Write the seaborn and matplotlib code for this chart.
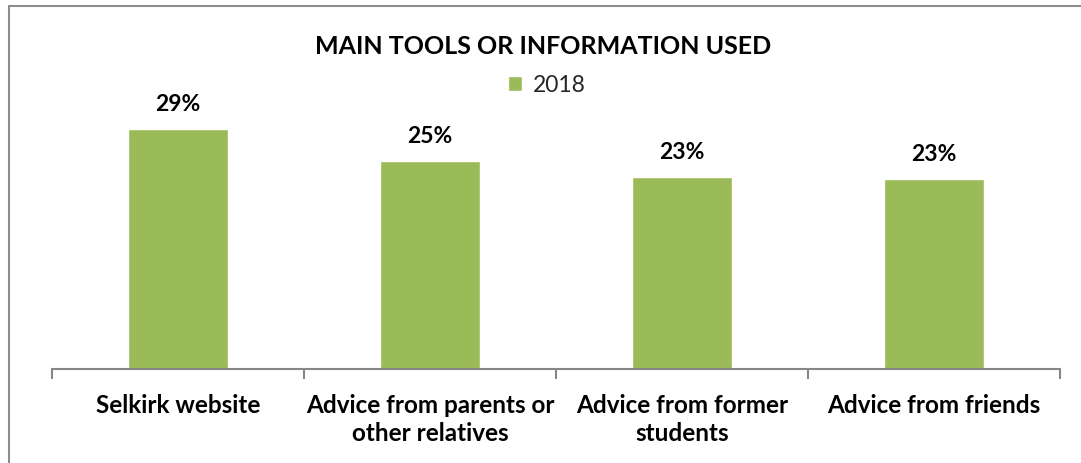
import matplotlib
matplotlib.use("Agg")
import matplotlib.pyplot as plt
from matplotlib.lines import Line2D
import seaborn as sns
import pandas as pd

categories = [
    "Selkirk website",
    "Advice from parents or\nother relatives",
    "Advice from former\nstudents",
    "Advice from friends",
]
values_2018 = [0.290, 0.251, 0.232, 0.229]
series_name = "2018"
title = "MAIN TOOLS OR INFORMATION USED"

bar_color = "#9BBB59"
axis_gray = "#868686"

df = pd.DataFrame({"category": categories, "value": values_2018, "year": series_name})

sns.set_theme(style="white")
plt.rcParams["font.family"] = ["Lato", "DejaVu Sans"]

W, H = 1081, 464
dpi = 100
fig = plt.figure(figsize=(W / dpi, H / dpi), dpi=dpi)
fig.patch.set_facecolor("white")

# plot area in pixels: x 52..1060, baseline at y=370
ymax = 0.35
ax_h = 240 * ymax / 0.29
ax = fig.add_axes([52 / W, (H - 370) / H, (1060 - 52) / W, ax_h / H])

sns.barplot(data=df, x="category", y="value", hue="year", palette=[bar_color],
            saturation=1, width=0.393, ax=ax, legend=True)

ax.set_xlim(-0.5, len(categories) - 0.5)
ax.set_ylim(0, ymax)
ax.set_xlabel("")
ax.set_ylabel("")
ax.set_yticks([])

for s in ["top", "right", "left"]:
    ax.spines[s].set_visible(False)
ax.spines["bottom"].set_color(axis_gray)
ax.spines["bottom"].set_linewidth(1.5)

# category boundaries as tick marks, labels at centers
ax.set_xticks(range(len(categories)))
ax.set_xticklabels(categories, fontsize=17.5, fontweight="bold", color="black",
                   linespacing=1.3)
ax.tick_params(axis="x", which="major", length=0, pad=17)
ax.set_xticks([i - 0.5 for i in range(len(categories) + 1)], minor=True)
ax.tick_params(axis="x", which="minor", length=7, width=1.5, color=axis_gray,
               direction="out")
ax.xaxis.set_ticks_position("bottom")

for cont in ax.containers:
    ax.bar_label(cont, labels=[f"{v:.0%}" for v in values_2018], padding=11,
                 fontsize=16.5, fontweight="bold", color="black")

leg = ax.legend(loc="center", bbox_to_anchor=(547 / W, (H - 86) / H),
                bbox_transform=fig.transFigure, frameon=False, fontsize=16.5,
                handlelength=0.6, handleheight=0.6, handletextpad=0.5,
                borderpad=0)

fig.text(543 / W, (H - 46) / H, title, ha="center", va="center",
         fontsize=18, fontweight="bold", color="black")

# chart frame (left and top edges)
fig.add_artist(Line2D([9 / W, 9 / W], [0, (H - 7) / H], transform=fig.transFigure,
                      color="#8C8C8C", linewidth=1.5))
fig.add_artist(Line2D([9 / W, 1], [(H - 7) / H, (H - 7) / H], transform=fig.transFigure,
                      color="#8C8C8C", linewidth=1.5))

fig.savefig("out.png", dpi=dpi, facecolor="white")
